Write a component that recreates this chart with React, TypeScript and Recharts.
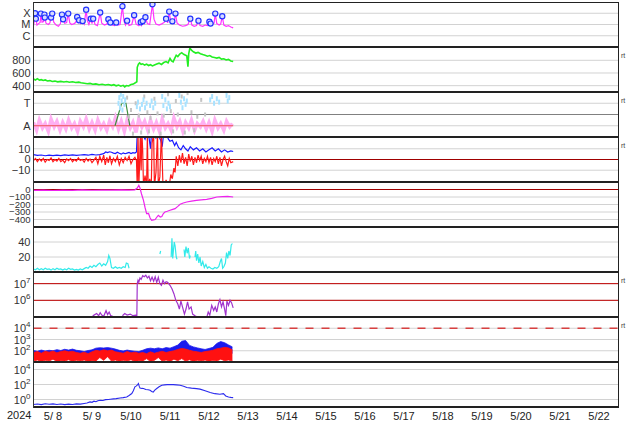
import React from "react";
import {
  ComposedChart,
  Line,
  Scatter,
  Area,
  XAxis,
  YAxis,
  CartesianGrid,
  ReferenceLine,
} from "recharts";

type P = [number, number | null];

// time = days since 5/8 00:00
const dayGrid = [1, 2, 3, 4, 5, 6, 7, 8, 9, 10, 11, 12, 13, 14];
const dayMid = [0.5, 1.5, 2.5, 3.5, 4.5, 5.5, 6.5, 7.5, 8.5, 9.5, 10.5, 11.5, 12.5, 13.5, 14.5];

// X-ray flux
const xray: P[] = [
  [0.0, 8e-6], [0.02, 2e-5], [0.04, 1.0e-4], [0.05, 2.5e-5], [0.06, 3.3e-5], [0.09, 9e-6], [0.13, 1.2e-5],
  [0.17, 1.5e-5], [0.19, 9.3e-5], [0.22, 1.6e-5], [0.26, 1.8e-5], [0.28, 7.6e-5], [0.29, 4.1e-5], [0.32, 1.3e-5],
  [0.38, 1.0e-5], [0.42, 1.4e-5], [0.45, 4.1e-5], [0.48, 9.3e-5], [0.52, 1.6e-5], [0.58, 9e-6], [0.64, 7e-6],
  [0.69, 1.2e-5], [0.73, 7.6e-5], [0.76, 2.9e-5], [0.8, 1.3e-5], [0.85, 1.5e-5], [0.89, 9.3e-5], [0.93, 1.4e-5],
  [0.98, 1.0e-5], [1.04, 1.2e-5], [1.08, 1.5e-5], [1.12, 4.7e-5], [1.15, 1.6e-5], [1.17, 2.4e-5], [1.21, 1.2e-5],
  [1.26, 2.0e-5], [1.3, 1.1e-5], [1.35, 2.1e-4], [1.38, 2.2e-5], [1.42, 1.0e-5], [1.47, 3.3e-5], [1.5, 1.2e-5],
  [1.53, 3.3e-5], [1.58, 1.0e-5], [1.64, 8e-6], [1.71, 1.15e-4], [1.75, 1.3e-5], [1.82, 9e-6], [1.88, 1.1e-5],
  [1.92, 2.9e-5], [1.95, 1.2e-5], [1.97, 1.5e-5], [2.02, 9e-6], [2.08, 8e-6], [2.12, 1.5e-5], [2.16, 9e-6],
  [2.22, 1.0e-5], [2.28, 4.2e-4], [2.32, 2.0e-5], [2.36, 9e-6], [2.4, 2.2e-5], [2.45, 8e-6], [2.52, 1.0e-5],
  [2.58, 6.6e-5], [2.63, 1.1e-5], [2.7, 8e-6], [2.75, 1.6e-5], [2.77, 9e-6], [2.8, 2.0e-5], [2.84, 1.2e-5],
  [2.87, 4.4e-5], [2.92, 1.2e-5], [2.98, 1.0e-5], [3.05, 6.3e-4], [3.09, 3.0e-5], [3.14, 1.1e-5], [3.22, 9e-6],
  [3.3, 1.2e-5], [3.36, 1.6e-5], [3.4, 3.3e-5], [3.44, 1.4e-5], [3.48, 1.4e-4], [3.52, 1.5e-5], [3.56, 1.9e-5],
  [3.6, 1.2e-5], [3.64, 9.3e-5], [3.68, 1.4e-5], [3.74, 9e-6], [3.82, 7e-6], [3.9, 8e-6], [3.96, 1.0e-5],
  [4.02, 3.3e-5], [4.06, 9e-6], [4.12, 7e-6], [4.18, 8e-6], [4.23, 2.2e-5], [4.27, 8e-6], [4.34, 7e-6],
  [4.4, 9e-6], [4.46, 8e-6], [4.51, 1.8e-5], [4.54, 1.2e-5], [4.58, 1.0e-5], [4.63, 1.3e-5], [4.66, 9.3e-5],
  [4.7, 1.2e-5], [4.76, 9e-6], [4.8, 1.1e-5], [4.84, 5.4e-5], [4.88, 9e-6], [4.94, 7e-6], [5.0, 8e-6],
  [5.06, 6e-6], [5.12, 5e-6],
];

// flare peaks
const flares: P[] = [
  [0.04, 1.0e-4], [0.06, 3.3e-5], [0.19, 9.3e-5], [0.28, 7.6e-5], [0.29, 4.1e-5], [0.45, 4.1e-5], [0.48, 9.3e-5],
  [0.73, 7.6e-5], [0.76, 2.9e-5], [0.89, 9.3e-5], [1.12, 4.7e-5], [1.17, 2.4e-5], [1.26, 2.0e-5], [1.35, 2.1e-4],
  [1.47, 3.3e-5], [1.53, 3.3e-5], [1.71, 1.15e-4], [1.92, 2.9e-5], [1.97, 1.5e-5], [2.12, 1.5e-5], [2.28, 4.2e-4],
  [2.4, 2.2e-5], [2.58, 6.6e-5], [2.75, 1.6e-5], [2.8, 2.0e-5], [2.87, 4.4e-5], [3.05, 6.3e-4], [3.4, 3.3e-5],
  [3.48, 1.4e-4], [3.56, 1.9e-5], [3.64, 9.3e-5], [4.02, 3.3e-5], [4.23, 2.2e-5], [4.51, 1.8e-5], [4.54, 1.2e-5],
  [4.66, 9.3e-5], [4.84, 5.4e-5],
];

// solar wind speed
const speed: P[] = [
  [0.0, 505], [0.05, 490], [0.1, 510], [0.15, 488], [0.2, 495], [0.25, 482], [0.3, 490], [0.36, 474], [0.42, 480],
  [0.48, 466], [0.55, 472], [0.62, 460], [0.7, 468], [0.78, 458], [0.85, 466], [0.92, 455], [1.0, 462], [1.08, 450],
  [1.16, 456], [1.22, 445], [1.3, 438], [1.38, 430], [1.45, 436], [1.52, 422], [1.6, 428], [1.68, 415], [1.76, 422],
  [1.84, 410], [1.92, 418], [2.0, 405], [2.06, 415], [2.12, 398], [2.18, 410], [2.24, 392], [2.3, 405], [2.34, 380],
  [2.38, 402], [2.44, 395], [2.5, 418], [2.56, 425], [2.62, 450], [2.65, 460], [2.66, 690], [2.69, 740], [2.72, 760],
  [2.76, 735], [2.8, 745], [2.85, 725], [2.9, 740], [2.95, 718], [3.0, 730], [3.05, 712], [3.1, 725], [3.16, 740],
  [3.22, 755], [3.28, 735], [3.34, 765], [3.4, 780], [3.45, 760], [3.5, 830], [3.54, 790], [3.58, 775], [3.62, 830],
  [3.66, 880], [3.7, 860], [3.75, 900], [3.8, 920], [3.85, 895], [3.9, 880], [3.93, 870], [3.96, 700], [3.98, 900],
  [4.01, 995], [4.05, 960], [4.1, 935], [4.16, 915], [4.22, 925], [4.28, 905], [4.34, 890], [4.4, 880], [4.46, 865],
  [4.52, 875], [4.58, 852], [4.64, 845], [4.7, 835], [4.76, 845], [4.82, 820], [4.88, 825], [4.94, 805], [5.0, 815],
  [5.06, 790], [5.12, 780],
];

// activity panel (A = 1, T = 3)
const pink: P[] = [
  [0.0, 1.3], [0.08, 0.6], [0.15, 1.5], [0.23, 0.8], [0.3, 1.2], [0.38, 0.5], [0.45, 1.6], [0.53, 0.9], [0.6, 1.4],
  [0.68, 0.6], [0.75, 1.3], [0.83, 0.7], [0.9, 1.5], [0.98, 0.8], [1.05, 1.2], [1.13, 0.5], [1.2, 1.4], [1.28, 0.9],
  [1.35, 1.6], [1.43, 0.7], [1.5, 1.3], [1.58, 0.6], [1.65, 1.5], [1.73, 0.8], [1.8, 1.2], [1.88, 0.6], [1.95, 1.4],
  [2.03, 0.9], [2.1, 1.7], [2.18, 0.7], [2.25, 1.4], [2.33, 0.5], [2.4, 1.5], [2.48, 0.8], [2.55, 1.3], [2.63, 0.4],
  [2.7, 1.6], [2.78, 0.9], [2.85, 1.4], [2.93, 0.6], [3.0, 1.5], [3.08, 0.7], [3.15, 1.3], [3.23, 0.5], [3.3, 1.6],
  [3.38, 0.8], [3.45, 1.2], [3.53, 0.6], [3.6, 1.7], [3.68, 0.9], [3.75, 1.4], [3.83, 0.5], [3.9, 1.3], [3.98, 0.8],
  [4.05, 1.5], [4.13, 0.6], [4.2, 1.2], [4.28, 0.9], [4.35, 1.4], [4.43, 0.7], [4.5, 1.3], [4.58, 0.5], [4.65, 1.5],
  [4.73, 0.8], [4.8, 1.2], [4.88, 0.6], [4.95, 1.4], [5.03, 0.9], [5.1, 1.2],
];
const lightBlue: P[] = [
  [2.18, 3.0], [2.2, 3.5], [2.22, 2.6], [2.24, 3.8], [2.26, 3.2], [2.28, 2.4], [2.3, 3.6], [2.33, 2.9], [2.35, 3.3],
  [2.65, 2.7], [2.68, 3.1], [2.73, 2.5], [2.78, 2.9], [2.82, 3.3], [2.86, 2.6], [2.9, 3.0], [2.99, 2.8], [3.03, 3.2],
  [3.07, 2.6], [3.12, 3.0], [3.3, 3.6], [3.33, 2.8], [3.38, 3.3], [3.42, 2.5], [3.46, 3.0], [3.5, 2.7], [3.74, 3.7],
  [3.78, 3.1], [3.82, 2.6], [3.86, 3.4], [3.9, 2.9], [3.93, 3.2], [4.53, 3.3], [4.58, 3.6], [4.63, 3.0], [4.7, 3.4],
  [4.76, 3.1], [4.95, 3.7], [4.98, 3.2], [5.02, 3.5],
];
const grayPts: P[] = [
  [2.4, 3.5], [2.45, 1.8], [2.5, 2.4], [2.55, 0.3], [2.62, 3.0], [2.7, 1.9], [2.76, 0.4], [2.84, 3.6], [2.92, 2.2],
  [2.96, 0.5], [3.0, 1.7], [3.1, 3.4], [3.18, 2.1], [3.26, 0.3], [3.34, 1.9], [3.45, 3.8], [3.52, 2.3], [3.58, 0.5],
  [3.65, 3.2], [3.7, 2.0], [3.8, 3.6], [3.88, 0.4], [3.95, 3.9], [4.05, 2.2], [4.12, 0.6], [4.2, 1.8], [4.3, 3.3],
  [4.4, 2.0],
];
const activity: P[] = [[2.09, 1], [2.26, 3], [2.37, 3], [2.47, 1]];

// IMF Bt / Bz
const bt: P[] = [
  [0.0, 4.5], [0.1, 3.8], [0.2, 4.2], [0.3, 3.5], [0.4, 4.0], [0.5, 3.6], [0.6, 4.1], [0.7, 3.7], [0.8, 4.3],
  [0.9, 3.9], [1.0, 4.4], [1.1, 3.8], [1.2, 4.2], [1.3, 4.6], [1.4, 4.0], [1.5, 4.8], [1.6, 4.2], [1.7, 4.6],
  [1.8, 5.5], [1.85, 7.0], [1.9, 6.5], [1.95, 7.2], [2.0, 6.8], [2.05, 6.0], [2.1, 5.5], [2.15, 6.8], [2.2, 5.8],
  [2.25, 5.0], [2.3, 6.2], [2.35, 5.4], [2.4, 6.0], [2.45, 6.6], [2.5, 5.6], [2.55, 6.4], [2.6, 6.0], [2.64, 7.0],
  [2.66, 24], [2.7, 22], [2.74, 25], [2.8, 23], [2.86, 19], [2.9, 24], [2.96, 21], [3.0, 10], [3.02, 22],
  [3.08, 25], [3.14, 20], [3.2, 23], [3.26, 18], [3.3, 12], [3.33, 22], [3.4, 24], [3.46, 19], [3.5, 17],
  [3.56, 18], [3.62, 13], [3.66, 16], [3.72, 11], [3.78, 9], [3.84, 13], [3.9, 10], [3.96, 8], [4.02, 12],
  [4.1, 9], [4.18, 11], [4.26, 8], [4.34, 10], [4.42, 7], [4.5, 9], [4.58, 11], [4.66, 8], [4.74, 10], [4.82, 7],
  [4.9, 9], [4.98, 7], [5.06, 8], [5.12, 7.5],
];
const bz: P[] = [
  [0.0, -1], [0.05, 1], [0.1, -2], [0.15, 0.5], [0.2, -1.5], [0.25, 1], [0.3, -2.5], [0.35, 0], [0.4, -1],
  [0.45, 1.5], [0.5, -2], [0.55, 0], [0.6, -1.5], [0.65, 1], [0.7, -2], [0.75, -0.5], [0.8, -3], [0.85, 0.5],
  [0.9, -1], [0.95, 1], [1.0, -2], [1.05, 0], [1.1, -1.5], [1.15, 1.5], [1.2, -1], [1.25, 0], [1.3, -2.5],
  [1.35, 1], [1.4, -1.5], [1.45, 0.5], [1.5, -3], [1.55, -0.5], [1.6, 2], [1.65, -4], [1.7, 3], [1.75, -2],
  [1.8, 4], [1.84, -5], [1.88, 2], [1.92, -3], [1.96, 3.5], [2.0, -4], [2.05, 1], [2.1, -2], [2.15, 3],
  [2.2, -5], [2.25, 1], [2.3, -3], [2.35, 2], [2.4, -1], [2.45, 3], [2.5, -4], [2.55, 0], [2.6, 2], [2.64, -1],
  [2.66, -25], [2.68, 25], [2.7, -25], [2.72, -5], [2.74, 25], [2.76, -10], [2.78, 25], [2.8, 8], [2.82, -25],
  [2.86, -15], [2.9, -25], [2.92, 25], [2.94, -25], [2.98, -18], [3.02, -25], [3.04, 15], [3.08, 25], [3.1, -25],
  [3.14, -12], [3.18, 25], [3.2, -25], [3.24, -16], [3.28, 25], [3.32, -25], [3.36, -25], [3.4, -19], [3.44, -25],
  [3.48, -25], [3.52, -14], [3.56, -18], [3.6, -8], [3.63, -12], [3.66, 3], [3.7, -6], [3.74, 4], [3.78, -3],
  [3.82, 6], [3.86, -4], [3.9, 2], [3.94, -6], [3.98, 5], [4.02, -2], [4.06, 3], [4.1, -5], [4.14, 2], [4.18, -3],
  [4.22, 4], [4.26, -1], [4.3, 3], [4.34, -4], [4.38, 1], [4.42, -2], [4.46, 3], [4.5, -3], [4.54, 2], [4.58, -5],
  [4.62, 1], [4.66, -2], [4.7, 3], [4.74, -4], [4.78, 2], [4.82, -6], [4.86, 0], [4.9, 3], [4.94, -2], [4.98, -6],
  [5.02, 1], [5.06, -3], [5.12, -2],
];

// Dst
const dst: P[] = [
  [0.0, -12], [0.25, -9], [0.5, -13], [0.75, -8], [1.0, -11], [1.25, -6], [1.5, -10], [1.75, -7], [2.0, -9],
  [2.25, -5], [2.45, -8], [2.6, -4], [2.66, 20], [2.7, 56], [2.73, 20], [2.77, -60], [2.82, -144], [2.86, -240],
  [2.9, -322], [2.95, -320], [2.99, -380], [3.03, -411], [3.08, -405], [3.12, -401], [3.16, -370], [3.2, -344],
  [3.25, -367], [3.29, -360], [3.33, -320], [3.37, -300], [3.43, -290], [3.5, -277], [3.57, -265], [3.63, -255],
  [3.7, -225], [3.76, -197], [3.84, -180], [3.93, -167], [4.05, -155], [4.18, -144], [4.3, -138], [4.44, -131],
  [4.57, -118], [4.7, -100], [4.85, -95], [4.98, -92], [5.12, -100],
];

// solar wind density
const density: P[] = [
  [0.0, 4], [0.05, 3], [0.1, 5], [0.15, 3], [0.2, 4.5], [0.25, 3], [0.3, 5], [0.35, 3.5], [0.4, 4], [0.45, 2.5],
  [0.5, 4.5], [0.55, 3], [0.6, 5], [0.65, 3.5], [0.7, 4], [0.75, 2.5], [0.8, 4], [0.85, 3], [0.9, 5], [0.95, 3.5],
  [1.0, 4], [1.05, 2.5], [1.1, 3.5], [1.15, 2.5], [1.2, 4], [1.25, 3], [1.3, 4.5], [1.35, 6], [1.4, 5], [1.45, 8],
  [1.5, 6], [1.55, 9], [1.6, 7], [1.65, 10], [1.7, 12], [1.75, 8], [1.8, 11], [1.85, 9], [1.9, 14], [1.93, 22],
  [1.96, 18], [1.98, 12], [2.0, 6], [2.05, 5], [2.1, 7], [2.15, 5], [2.2, 6], [2.25, 5], [2.3, 7], [2.35, 6],
  [2.38, 12], [2.42, 11], [2.45, 5], [2.5, null], [3.24, 24], [3.26, 28], [3.3, null], [3.53, 20], [3.55, 45],
  [3.57, 18], [3.59, 30], [3.61, 40], [3.63, 35], [3.66, 20], [3.68, 17], [3.75, null], [3.86, 30], [3.88, 20],
  [3.91, 34], [3.94, 25], [3.97, 32], [4.0, 18], [4.02, 22], [4.08, null], [4.14, 20], [4.16, 28], [4.18, 15],
  [4.21, 24], [4.24, 12], [4.27, 20], [4.3, 8], [4.34, 14], [4.38, 6], [4.42, 10], [4.46, 5], [4.5, 7], [4.55, 5],
  [4.6, 4], [4.65, 6], [4.7, 5], [4.75, 7], [4.79, 14], [4.82, 18], [4.85, 5], [4.88, 7], [4.92, 12], [4.95, 26],
  [4.98, 18], [5.01, 28], [5.04, 22], [5.07, 36], [5.1, 38],
];

// electron flux
const electrons: P[] = [
  [1.5, 1.0e5], [1.55, 1.3e5], [1.62, 1.6e5], [1.67, 1.2e5], [1.71, 1.8e5], [1.75, 1.3e5], [1.8, 1.1e5],
  [1.86, 2.4e5], [1.9, 1.4e5], [1.94, 2.0e5], [1.98, 1.2e5], [2.03, 1.1e5], [2.1, null], [2.28, 1.2e5],
  [2.34, 1.6e5], [2.4, 1.3e5], [2.48, 1.5e5], [2.55, 1.2e5], [2.62, 1.3e5], [2.65, 1.2e5], [2.66, 1e7],
  [2.68, 1.6e7], [2.7, 1.2e7], [2.73, 2.2e7], [2.76, 1.8e7], [2.8, 3e7], [2.84, 2.6e7], [2.88, 3.2e7],
  [2.92, 2.2e7], [2.96, 2.8e7], [3.0, 1.5e7], [3.04, 2.5e7], [3.08, 1.4e7], [3.12, 2.6e7], [3.16, 1.2e7],
  [3.2, 2.4e7], [3.24, 1.0e7], [3.28, 8e6], [3.32, 1.6e7], [3.36, 1.0e7], [3.4, 1.3e7], [3.44, 1.2e7],
  [3.5, 8e6], [3.55, 5e6], [3.6, 2.5e6], [3.65, 1.0e6], [3.7, 6e5], [3.74, 3e5], [3.78, 9e5], [3.82, 4e5],
  [3.87, 1.5e5], [3.91, 3e5], [3.95, 8e5], [3.99, 3e5], [4.04, 4e5], [4.08, 1.5e5], [4.14, 1.2e5], [4.2, 1.0e5],
  [4.3, null], [4.45, 1.1e5], [4.48, 2e5], [4.52, 1.3e5], [4.57, 5e5], [4.62, 2.5e5], [4.66, 4e5], [4.7, 2e5],
  [4.74, 6e5], [4.78, 1.1e6], [4.82, 4e5], [4.86, 8e5], [4.9, 3e5], [4.93, 1.2e5], [4.96, 9e5], [5.0, 5e5],
  [5.04, 1.0e6], [5.08, 7e5], [5.12, 3.5e5],
];

// proton flux ranges [t, low, high]
const protonBlue: [number, number, number][] = [
  [0.0, 30, 105], [0.1, 45, 90], [0.2, 25, 115], [0.3, 40, 95], [0.4, 30, 110], [0.5, 50, 100], [0.6, 28, 125],
  [0.7, 45, 105], [0.8, 30, 135], [0.9, 40, 115], [1.0, 35, 140], [1.1, 45, 110], [1.2, 30, 100], [1.3, 40, 85],
  [1.4, 28, 105], [1.5, 45, 120], [1.6, 35, 170], [1.7, 50, 185], [1.8, 40, 175], [1.9, 55, 190], [2.0, 45, 170],
  [2.1, 35, 140], [2.2, 50, 110], [2.3, 30, 95], [2.4, 45, 115], [2.5, 35, 100], [2.6, 40, 90], [2.7, 30, 85],
  [2.8, 50, 110], [2.9, 35, 150], [3.0, 45, 170], [3.1, 30, 150], [3.2, 50, 180], [3.3, 35, 150], [3.4, 45, 190],
  [3.5, 40, 170], [3.6, 55, 230], [3.7, 60, 320], [3.8, 80, 700], [3.9, 70, 820], [4.0, 55, 300], [4.1, 45, 220],
  [4.2, 50, 180], [4.3, 40, 150], [4.4, 45, 130], [4.5, 35, 160], [4.6, 50, 200], [4.7, 60, 450], [4.8, 70, 650],
  [4.9, 80, 520], [5.0, 75, 330], [5.1, 60, 220],
];
const protonRed: [number, number, number][] = [
  [0.0, 12, 70], [0.1, 15, 85], [0.2, 11, 60], [0.3, 14, 90], [0.4, 12, 75], [0.5, 18, 95], [0.6, 11, 65],
  [0.7, 13, 85], [0.8, 12, 100], [0.9, 16, 80], [1.0, 11, 90], [1.1, 14, 70], [1.2, 12, 60], [1.3, 15, 75],
  [1.4, 11, 55], [1.5, 13, 80], [1.6, 12, 110], [1.7, 25, 95], [1.8, 14, 120], [1.9, 30, 100], [2.0, 12, 115],
  [2.1, 15, 80], [2.2, 11, 70], [2.3, 14, 60], [2.4, 12, 85], [2.5, 16, 65], [2.6, 11, 75], [2.7, 13, 60],
  [2.8, 12, 70], [2.9, 20, 55], [3.0, 11, 80], [3.1, 14, 60], [3.2, 25, 75], [3.3, 12, 90], [3.4, 15, 70],
  [3.5, 11, 85], [3.6, 18, 100], [3.7, 13, 130], [3.8, 20, 160], [3.9, 12, 140], [4.0, 16, 110], [4.1, 11, 90],
  [4.2, 14, 80], [4.3, 12, 70], [4.4, 15, 85], [4.5, 11, 95], [4.6, 14, 110], [4.7, 12, 150], [4.8, 18, 170],
  [4.9, 13, 200], [5.0, 15, 180], [5.1, 12, 120],
];

// bottom panel
const bottom: P[] = [
  [0.0, 0.22], [0.1, 0.25], [0.2, 0.21], [0.3, 0.27], [0.4, 0.23], [0.5, 0.26], [0.6, 0.22], [0.7, 0.25],
  [0.8, 0.21], [0.9, 0.24], [1.0, 0.22], [1.1, 0.26], [1.2, 0.24], [1.3, 0.3], [1.37, 0.35], [1.45, 0.48],
  [1.5, 0.42], [1.55, 0.6], [1.6, 0.5], [1.65, 0.7], [1.71, 0.81], [1.78, 0.75], [1.85, 0.95], [1.92, 1.0],
  [1.97, 1.1], [2.05, 1.2], [2.12, 1.3], [2.22, 1.6], [2.3, 1.8], [2.39, 2.2], [2.45, 3.5], [2.52, 6.3],
  [2.56, 15], [2.6, 48], [2.63, 60], [2.66, 80], [2.69, 135], [2.71, 60], [2.73, 35], [2.78, 30], [2.82, 29],
  [2.88, 22], [2.94, 20], [2.99, 17], [3.03, 12], [3.07, 10], [3.11, 18], [3.16, 29], [3.22, 50], [3.29, 81],
  [3.36, 90], [3.43, 95], [3.5, 100], [3.58, 96], [3.66, 90], [3.76, 81], [3.85, 60], [3.93, 40], [4.05, 33],
  [4.18, 28], [4.27, 24], [4.4, 15], [4.53, 8.5], [4.65, 6], [4.78, 5.1], [4.87, 6], [4.93, 3], [5.0, 2.2],
  [5.06, 1.9], [5.12, 1.8],
];

const W = 634;
const FONT = "'Liberation Sans', Arial, sans-serif";
const pts = (a: P[]) => a.map(([t, v]) => ({ t, v }));
const rng = (a: [number, number, number][]) => a.map(([t, lo, hi]) => ({ t, v: [lo, hi] }));

const minus = (v: number) => (v < 0 ? "\u2212" + Math.abs(v) : String(v));

function yTick(fmt?: (v: number) => string, size = 11) {
  return (p: any) => {
    const v = p.payload.value as number;
    if (!fmt) {
      const e = Math.round(Math.log10(v));
      return (
        <text x={p.x} y={p.y} dy={4} textAnchor="end" fontFamily={FONT} fontSize={size} fill="#333">
          10<tspan dy={-5} fontSize={8}>{e}</tspan>
        </text>
      );
    }
    return (
      <text x={p.x} y={p.y} dy={size * 0.36} textAnchor="end" fontFamily={FONT} fontSize={size} fill="#333">
        {fmt(v)}
      </text>
    );
  };
}

const xTick = (p: any) => {
  const d = 8 + Math.floor(p.payload.value);
  return (
    <text x={p.x} y={p.y} dy={9} textAnchor="middle" fontFamily={FONT} fontSize={11} fill="#222">
      {d < 10 ? `5/ ${d}` : `5/${d}`}
    </text>
  );
};

function Panel(props: {
  k: number;
  domain: [number, number];
  ticks: number[];
  log?: boolean;
  fmt?: (v: number) => string;
  size?: number;
  last?: boolean;
  children: React.ReactNode;
}) {
  const { k, domain, ticks, log, fmt, size, last, children } = props;
  return (
    <div style={{ position: "absolute", left: 0, top: 2 + 45 * k }}>
      <ComposedChart width={W} height={last ? 62 : 45} margin={{ top: 0, right: 15.5, bottom: 0, left: 0 }}>
        <XAxis xAxisId="g" type="number" dataKey="t" domain={[0, 15]} ticks={dayGrid} orientation="top"
          height={0} tick={false} tickLine={false} axisLine={false} allowDataOverflow />
        <XAxis type="number" dataKey="t" domain={[0, 15]} ticks={dayMid} hide={!last} height={17}
          interval={0} tickLine={false} axisLine={false} tickSize={0} tickMargin={4} tick={xTick} allowDataOverflow />
        <YAxis type="number" scale={log ? "log" : "linear"} domain={domain} ticks={ticks} interval={0}
          allowDataOverflow width={33.5} tickLine={false} axisLine={false} tickSize={0} tickMargin={3}
          tick={yTick(fmt, size)} />
        <CartesianGrid xAxisId="g" stroke="#d2d2d2" />
        {children}
      </ComposedChart>
    </div>
  );
}

const xrayLabel = (v: number) => (v > 5e-5 ? "X" : v > 5e-6 ? "M" : "C");
const actLabel = (v: number) => (v === 3 ? "T" : "A");

export default function App() {
  const seps = [1, 2, 3, 4, 5, 6, 7, 8];
  const rt = [1, 2, 3, 6, 7];
  return (
    <div style={{ position: "absolute", left: 0, top: 0, width: W, height: 424, background: "#fff", overflow: "hidden" }}>
      <Panel k={0} domain={[1e-7, 1e-3]} ticks={[1e-6, 1e-5, 1e-4]} log fmt={xrayLabel}>
        <Line data={pts(xray)} dataKey="v" stroke="#ff33ff" strokeWidth={1.2} dot={false} isAnimationActive={false} />
        <Scatter data={pts(flares)} dataKey="v" isAnimationActive={false}
          shape={(p: any) => <circle cx={p.cx} cy={p.cy} r={2.6} fill="#d6dbff" stroke="#2233ff" strokeWidth={1.2} />} />
      </Panel>

      <Panel k={1} domain={[300, 1010]} ticks={[400, 600, 800]} fmt={String}>
        <Line data={pts(speed)} dataKey="v" stroke="#22ee22" strokeWidth={1.6} dot={false} isAnimationActive={false} />
      </Panel>

      <Panel k={2} domain={[0, 4]} ticks={[1, 3]} fmt={actLabel}>
        <ReferenceLine y={2} stroke="#808080" />
        <Line data={pts(pink)} dataKey="v" stroke="#ffb0f2" strokeWidth={3.5} dot={false} isAnimationActive={false} />
        <Scatter data={pts(grayPts)} dataKey="v" isAnimationActive={false}
          shape={(p: any) => <rect x={p.cx - 1} y={p.cy - 2} width={2} height={4} fill="#c4c4c4" />} />
        <Scatter data={pts(lightBlue)} dataKey="v" isAnimationActive={false}
          shape={(p: any) => <rect x={p.cx - 1} y={p.cy - 2.5} width={2} height={5} fill="#a9e2ff" />} />
        <ReferenceLine segment={[{ x: 0, y: 1 }, { x: 5.12, y: 1 }]} stroke="#ee5050" />
        <Line data={pts(activity)} dataKey="v" stroke="#3d8f3d" strokeWidth={1.2} dot={false} isAnimationActive={false} />
      </Panel>

      <Panel k={3} domain={[-21, 21]} ticks={[-10, 0, 10]} fmt={minus}>
        <ReferenceLine y={0} stroke="#a00000" />
        <Line data={pts(bt)} dataKey="v" stroke="#1a1aff" strokeWidth={1.2} dot={false} isAnimationActive={false} />
        <Line data={pts(bz)} dataKey="v" stroke="#ff1a1a" strokeWidth={1.2} dot={false} isAnimationActive={false} />
      </Panel>

      <Panel k={4} domain={[-500, 100]} ticks={[-400, -300, -200, -100, 0]} fmt={minus} size={9.5}>
        <ReferenceLine y={0} stroke="#a00000" />
        <Line data={pts(dst)} dataKey="v" stroke="#ee22ee" strokeWidth={1.2} dot={false} isAnimationActive={false} />
      </Panel>

      <Panel k={5} domain={[0, 60]} ticks={[20, 40]} fmt={String}>
        <Line data={pts(density)} dataKey="v" stroke="#33eaea" strokeWidth={1.2} dot={false} isAnimationActive={false} />
      </Panel>

      <Panel k={6} domain={[1e5, 5e7]} ticks={[1e6, 1e7]} log>
        <ReferenceLine y={1e6} stroke="#c00000" />
        <ReferenceLine y={1e7} stroke="#c00000" />
        <Line data={pts(electrons)} dataKey="v" stroke="#a033cc" strokeWidth={1.2} dot={false} isAnimationActive={false} />
      </Panel>

      <Panel k={7} domain={[1e1, 1e5]} ticks={[1e2, 1e3, 1e4]} log>
        <ReferenceLine y={1e4} stroke="#d84040" strokeWidth={1.3} strokeDasharray="8 8" />
        <Area data={rng(protonBlue)} dataKey="v" type="linear" stroke="#1a1aee" strokeWidth={0.8} fill="#1a1aee"
          fillOpacity={1} isAnimationActive={false} />
        <Area data={rng(protonRed)} dataKey="v" type="linear" stroke="#ff1111" strokeWidth={0.8} fill="#ff1111"
          fillOpacity={1} isAnimationActive={false} />
      </Panel>

      <Panel k={8} domain={[1e-1, 1e5]} ticks={[1, 1e2, 1e4]} log last>
        <Line data={pts(bottom)} dataKey="v" stroke="#2b2bee" strokeWidth={1.1} dot={false} isAnimationActive={false} />
      </Panel>

      {/* frame */}
      <div style={{ position: "absolute", left: 33, top: 1.5, width: 586, height: 1.5, background: "#222" }} />
      {seps.map((k) => (
        <div key={k} style={{ position: "absolute", left: 33, top: 1 + 45 * k, width: 586, height: 2.2, background: "#222" }} />
      ))}
      <div style={{ position: "absolute", left: 33, top: 406, width: 586, height: 1.5, background: "#222" }} />
      <div style={{ position: "absolute", left: 33, top: 1.5, width: 1, height: 406, background: "#333" }} />
      <div style={{ position: "absolute", left: 617.5, top: 1.5, width: 1.8, height: 406, background: "#222" }} />

      {rt.map((k) => (
        <div key={k} style={{ position: "absolute", left: 621, top: 52 + 45 * (k - 1), fontFamily: FONT, fontSize: 7, lineHeight: "8px", color: "#444" }}>
          rt
        </div>
      ))}
      <div style={{ position: "absolute", left: 7, top: 409, fontFamily: FONT, fontSize: 11, color: "#222" }}>2024</div>
    </div>
  );
}
